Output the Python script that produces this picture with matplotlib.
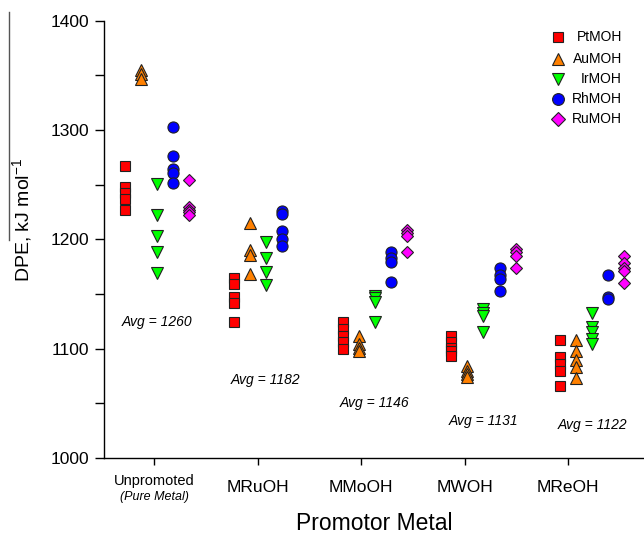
import matplotlib
matplotlib.use("Agg")
import matplotlib.pyplot as plt
from matplotlib.lines import Line2D

plt.rcParams["font.family"] = ["Liberation Sans", "DejaVu Sans"]
plt.rcParams["mathtext.default"] = "regular"

categories = ["Unpromoted", "MRuOH", "MMoOH", "MWOH", "MReOH"]
averages = [1260, 1182, 1146, 1131, 1122]

pt = [[1267, 1248, 1242, 1237, 1227],
      [1165, 1159, 1147, 1142, 1124],
      [1124, 1118, 1112, 1106, 1100],
      [1112, 1106, 1101, 1098, 1093],
      [1108, 1092, 1086, 1080, 1066]]
au = [[1355, 1351, 1347],
      [1215, 1190, 1186, 1168],
      [1112, 1104, 1101, 1098],
      [1084, 1080, 1077, 1074],
      [1108, 1098, 1090, 1083, 1073]]
ir = [[1251, 1222, 1203, 1188, 1169],
      [1198, 1183, 1170, 1158],
      [1148, 1146, 1143, 1124],
      [1136, 1133, 1130, 1115],
      [1133, 1120, 1115, 1109, 1104]]
rh = [[1303, 1276, 1264, 1261, 1252],
      [1226, 1223, 1208, 1200, 1194],
      [1188, 1183, 1179, 1161],
      [1174, 1167, 1164, 1153],
      [1167, 1147, 1145]]
ru = [[1254, 1230, 1227, 1225, 1222],
      [],
      [1209, 1206, 1203, 1188],
      [1191, 1188, 1185, 1174],
      [1185, 1178, 1174, 1171, 1160]]

series = [
    ("PtMOH", pt, "s", "#ff0000", 7),
    ("AuMOH", au, "^", "#ff8000", 8.5),
    ("IrMOH", ir, "v", "#00ff00", 8.5),
    ("RhMOH", rh, "o", "#0000ff", 8),
    ("RuMOH", ru, "D", "#ff00ff", 6.5),
]

fig = plt.figure(figsize=(6.44, 5.38), dpi=100)
ax = fig.add_axes([0.1615, 0.1487, 0.8385, 0.8128])

group_step = 1.051
series_step = 0.155
for s, (name, vals, mk, col, ms) in enumerate(series):
    for g, ys in enumerate(vals):
        x = 0.03 + g * group_step + (s - 2) * series_step
        ax.plot([x] * len(ys), ys, linestyle="none", marker=mk, ms=ms,
                mfc=col, mec="#222222", mew=0.8, clip_on=False)

# average labels
avg_y = [1124, 1071, 1050, 1034, 1030]
for g, a in enumerate(averages):
    ax.text(0.03 + g * group_step, avg_y[g], f"Avg = {a}", style="italic",
            fontsize=10, ha="center", va="center")

ax.set_xlim(-0.483, 4.734)
ax.set_ylim(1000, 1400)
ax.set_yticks(range(1000, 1401, 100))
ax.set_yticks(range(1050, 1400, 100), minor=True)
ax.set_xticks(range(len(categories)))
ax.set_xticklabels([""] + categories[1:], fontsize=12.5)
ax.tick_params(axis="y", which="both", direction="out", length=6.5, width=1,
               labelsize=12.5, pad=4)
ax.tick_params(axis="x", direction="out", length=5, width=1, pad=11)
ax.text(0, -0.052, "Unpromoted", transform=ax.get_xaxis_transform(),
        ha="center", va="center", fontsize=10.5)
ax.text(0, -0.09, "(Pure Metal)", transform=ax.get_xaxis_transform(),
        ha="center", va="center", fontsize=9, style="italic")
for side in ["top", "right"]:
    ax.spines[side].set_visible(False)
for side in ["left", "bottom"]:
    ax.spines[side].set_linewidth(1)

ax.set_xlabel("Promotor Metal", fontsize=16.5, labelpad=12)
ax.set_ylabel(r"DPE, kJ mol$^{-1}$", fontsize=14)
ax.yaxis.set_label_coords(-0.13, 0.545)

# manual right-aligned legend
leg_y = [0.963, 0.913, 0.866, 0.820, 0.775]
for (name, vals, mk, col, ms), y in zip(series, leg_y):
    ax.plot([0.841], [y], transform=ax.transAxes, linestyle="none", marker=mk,
            ms=ms + 0.5, mfc=col, mec="#222222", mew=0.8, clip_on=False)
    ax.text(0.959, y, name, transform=ax.transAxes, ha="right", va="center",
            fontsize=10)

# line over the axis label
fig.add_artist(Line2D([0.014, 0.014], [0.978, 0.553], color="#555555", lw=1))

fig.savefig("out.png", dpi=100)
